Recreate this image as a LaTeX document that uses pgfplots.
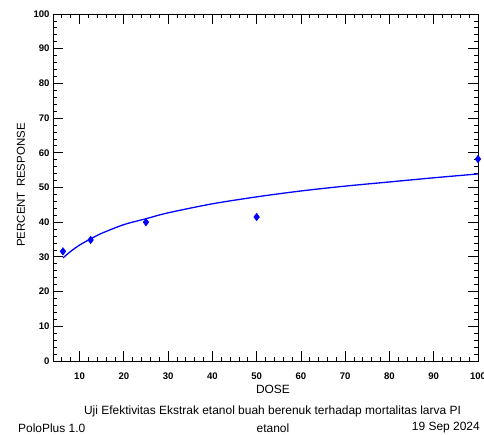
\documentclass[border=0pt]{standalone}
\usepackage{fontspec}
\setmainfont{Liberation Sans}
\usepackage{pgfplots}
\pgfplotsset{compat=1.18}

% observed responses
\pgfplotstableread{
dose resp
6.25 31.6
12.5 34.9
25   40.0
50   41.5
100  58.2
}\obs

% fitted probit line
\pgfplotstableread{
dose fit
6.25 29.7
8    31.6
10   33.4
12.5 35.2
15   36.8
20   39.3
25   41.0
30   42.7
40   45.3
50   47.3
60   49.0
70   50.4
80   51.6
90   52.8
100  53.9
}\fit

\begin{document}
\begin{tikzpicture}
\begin{axis}[
    name=ax,
    scale only axis,
    width=425bp, height=347bp,
    xmin=4, xmax=100,
    ymin=0, ymax=100,
    xtick={10,20,...,100},
    ytick={0,10,...,100},
    minor xtick={6,8,...,98},
    minor ytick={2,4,...,98},
    tick align=inside,
    major tick length=10bp,
    minor tick length=4bp,
    axis line style={line width=0.8bp},
    every tick/.style={black, line width=0.8bp},
    ticklabel style={font=\fontsize{9.6}{11}\selectfont\bfseries},
    xticklabel style={yshift=-8bp},
    /pgf/number format/assume math mode=true,
    clip=false,
]
\addplot[blue, line width=1.3bp, smooth] table[x=dose, y=fit] {\fit};
\addplot[only marks, mark=diamond*, mark size=3.8bp, color=blue] table[x=dose, y=resp] {\obs};
\end{axis}
\begin{scope}[font=\fontsize{12}{14}\selectfont]
\node at ([shift={(220bp,-28bp)}]ax.south west) {DOSE};
\node[rotate=90, font=\fontsize{11.5}{13}\selectfont] at ([shift={(-32bp,176bp)}]ax.south west) {PERCENT\, RESPONSE};
\node at ([shift={(219.5bp,-50bp)}]ax.south west) {Uji Efektivitas Ekstrak etanol buah berenuk terhadap mortalitas larva PI};
\node[anchor=west, inner sep=0] at ([shift={(-35bp,-67bp)}]ax.south west) {PoloPlus 1.0};
\node at ([shift={(220bp,-67bp)}]ax.south west) {etanol};
\node[anchor=east, inner sep=0] at ([shift={(427bp,-67bp)}]ax.south west) {19 Sep 2024};
\end{scope}
\pgfresetboundingbox
\path ([shift={(-53bp,-74bp)}]ax.south west) rectangle ([shift={(6bp,14bp)}]ax.north east);
\end{tikzpicture}
\end{document}
